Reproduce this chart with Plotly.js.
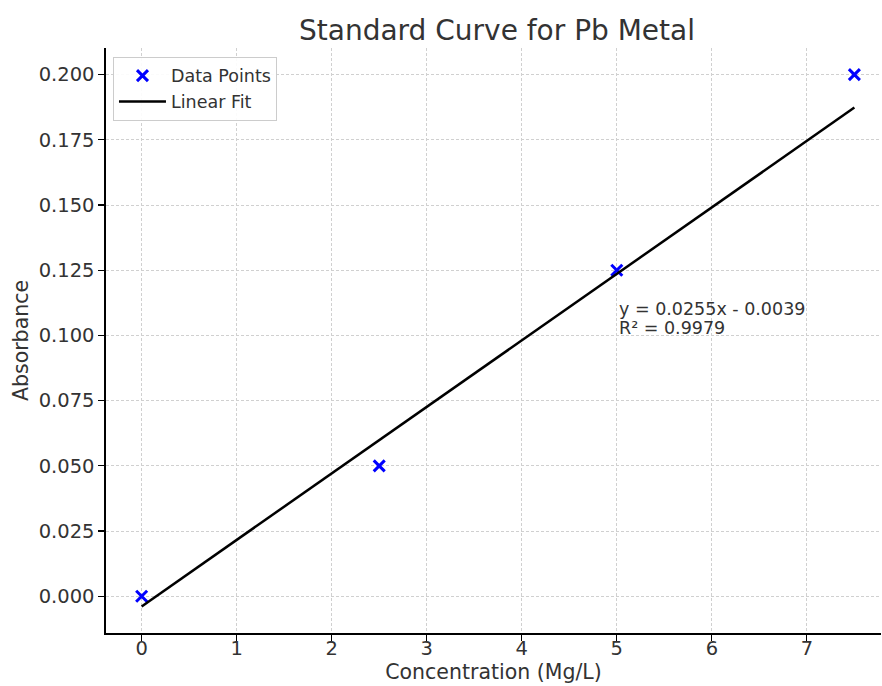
<!DOCTYPE html>
<html>
<head>
<meta charset="utf-8">
<script src="https://cdn.plot.ly/plotly-3.0.1.min.js"></script>
<style>html,body{margin:0;padding:0;background:#fff;}#chart{width:882px;height:686px;}</style>
</head>
<body>
<div id="chart"></div>
<script>
// Data
const concentration = [0, 2.5, 5, 7.5];
const absorbance = [0.000, 0.050, 0.125, 0.200];
// Linear fit line end points (y = 0.0255x - 0.0039)
const fitX = [0, 7.5];
const fitY = [-0.0039, 0.18735];
const equationLine = "y = 0.0255x - 0.0039";
const r2Line = "R² = 0.9979";
const yTickVals = [0, 0.025, 0.05, 0.075, 0.1, 0.125, 0.15, 0.175, 0.2];
const xTickVals = [0, 1, 2, 3, 4, 5, 6, 7];

const font = "DejaVu Sans, sans-serif";
const textColor = "#333333";
const gridDash = "3px,2px";

const traces = [
  {
    x: concentration, y: absorbance, type: "scatter", mode: "markers",
    name: "Data Points",
    marker: {symbol: "x-thin", size: 11, color: "#0000ff", line: {width: 3, color: "#0000ff"}}
  },
  {
    x: fitX, y: fitY, type: "scatter", mode: "lines",
    name: "Linear Fit",
    line: {color: "#000000", width: 2.5}
  }
];

const layout = {
  width: 882, height: 686,
  margin: {l: 106, r: 1, t: 48, b: 53},
  paper_bgcolor: "#ffffff", plot_bgcolor: "#ffffff",
  font: {family: font, color: textColor, size: 17},
  title: {text: "Standard Curve for Pb Metal", font: {family: font, size: 28, color: textColor},
          x: 0.5635, xref: "container", xanchor: "center", y: 0.956, yref: "container", yanchor: "middle"},
  xaxis: {
    range: [-0.375, 7.78], tickvals: xTickVals, ticktext: xTickVals.map(String),
    showgrid: true, gridcolor: "#d0d0d0", gridwidth: 1, griddash: gridDash,
    zeroline: false, showline: true, linecolor: "#000000", linewidth: 1.6,
    ticks: "outside", ticklen: 6, tickcolor: "#000000", tickwidth: 1.2,
    ticklabelstandoff: -9,
    tickfont: {family: font, size: 19.5, color: textColor},
    title: {text: "Concentration (Mg/L)", font: {family: font, size: 20.5, color: textColor}, standoff: 4},
    mirror: false
  },
  yaxis: {
    range: [-0.0141, 0.2102], tickvals: yTickVals, tickformat: ".3f",
    showgrid: true, gridcolor: "#d0d0d0", gridwidth: 1, griddash: gridDash,
    zeroline: false, showline: true, linecolor: "#000000", linewidth: 1.6,
    ticks: "outside", ticklen: 6, tickcolor: "#000000", tickwidth: 1.2,
    tickfont: {family: font, size: 19.5, color: textColor},
    title: {text: "Absorbance", font: {family: font, size: 20.5, color: textColor}, standoff: 4},
    mirror: false
  },
  legend: {
    x: 0.009, y: 0.985, xanchor: "left", yanchor: "top",
    bgcolor: "rgba(255,255,255,0.9)", bordercolor: "#cccccc", borderwidth: 1,
    itemwidth: 47,
    font: {family: font, size: 17.5, color: textColor}
  },
  showlegend: true,
  annotations: [
    {
      x: 5, y: 0.1, xref: "x", yref: "y", text: equationLine, showarrow: false,
      xanchor: "left", yanchor: "bottom", align: "left", yshift: 14,
      font: {family: font, size: 17.5, color: textColor}
    },
    {
      x: 5, y: 0.1, xref: "x", yref: "y", text: r2Line, showarrow: false,
      xanchor: "left", yanchor: "bottom", align: "left", yshift: -5,
      font: {family: font, size: 17.5, color: textColor}
    }
  ]
};

Plotly.newPlot("chart", traces, layout, {displayModeBar: false, staticPlot: true});
</script>
</body>
</html>
